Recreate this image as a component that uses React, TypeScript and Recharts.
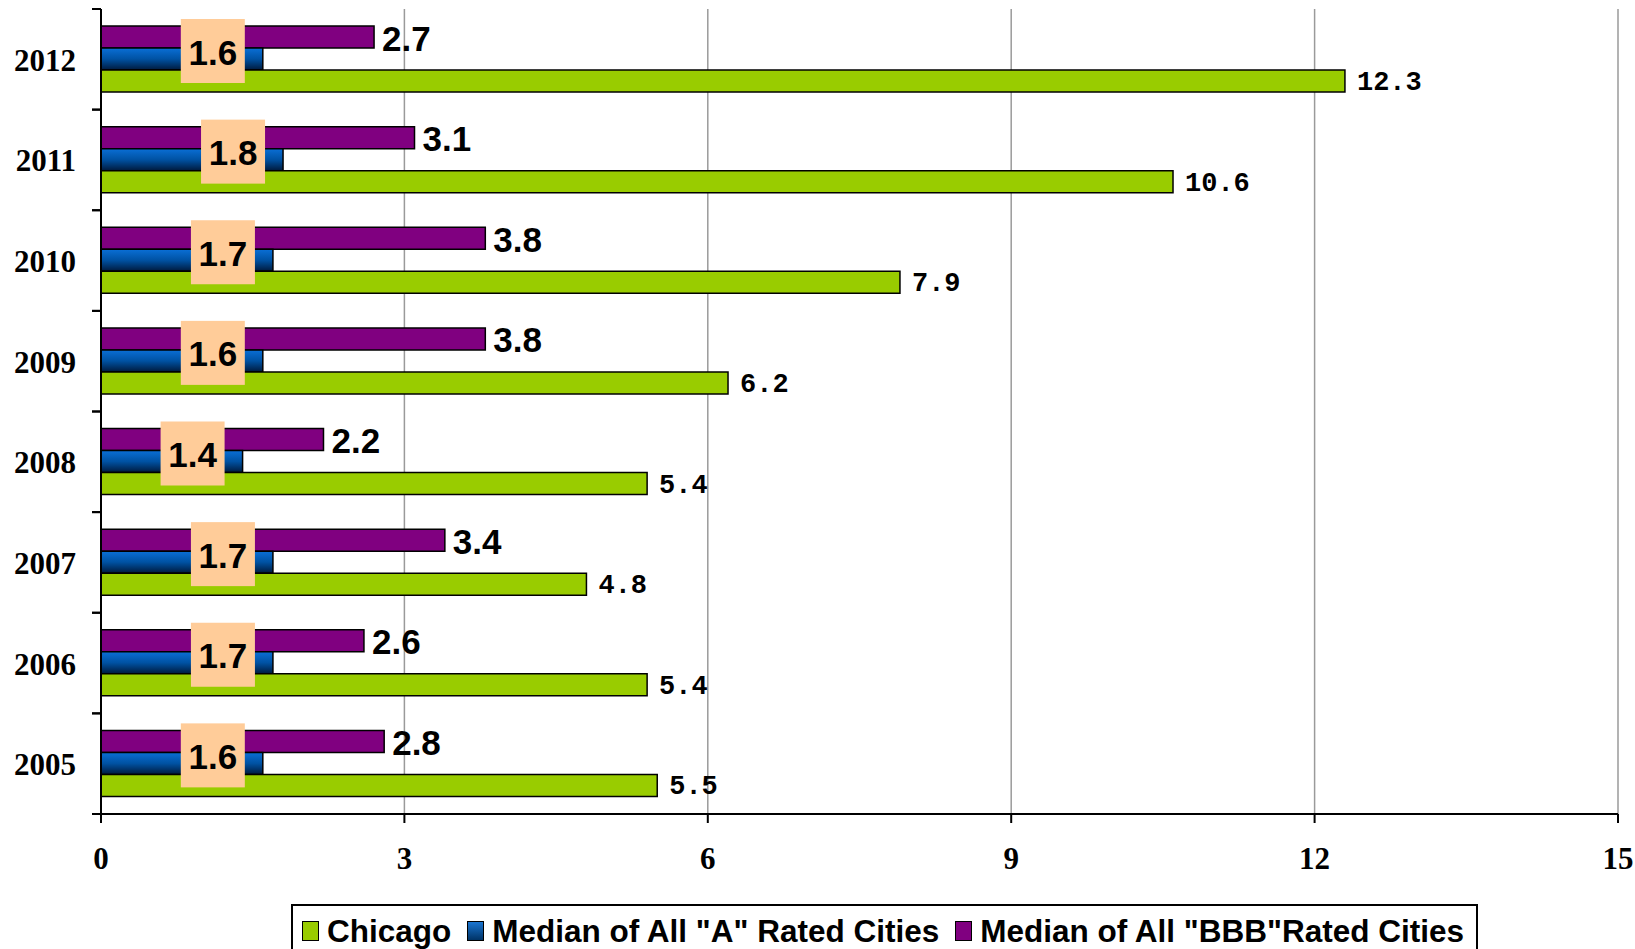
import { Bar, BarChart, CartesianGrid, LabelList, XAxis, YAxis } from "recharts";

const years = ["2005", "2006", "2007", "2008", "2009", "2010", "2011", "2012"];
const chicago = [5.5, 5.4, 4.8, 5.4, 6.2, 7.9, 10.6, 12.3];
const medianA = [1.6, 1.7, 1.7, 1.4, 1.6, 1.7, 1.8, 1.6];
const medianBBB = [2.8, 2.6, 3.4, 2.2, 3.8, 3.8, 3.1, 2.7];
const xTicks = [0, 3, 6, 9, 12, 15];

const data = years.map((year, i) => ({
  year,
  chicago: chicago[i],
  medianA: medianA[i],
  medianBBB: medianBBB[i],
}));

const W = 1635;
const H = 949;
const AXIS_X = 101;
const TOP = 9;
const BOTTOM_AREA = 135;
const BAND = (H - TOP - BOTTOM_AREA) / years.length;

const serif = '"Liberation Serif", "Times New Roman", serif';
const sans = '"Liberation Sans", Arial, sans-serif';
const mono = '"Liberation Mono", "Courier New", monospace';

function YearTick({ y, payload }: any) {
  return (
    <g>
      <text x={AXIS_X - 25} y={y + 1} textAnchor="end" dominantBaseline="central"
        fontFamily={serif} fontWeight="bold" fontSize={31} fill="#000">
        {payload.value}
      </text>
      <line x1={AXIS_X - 9} x2={AXIS_X} y1={y - BAND / 2} y2={y - BAND / 2} stroke="#000" strokeWidth={2} />
      <line x1={AXIS_X - 9} x2={AXIS_X} y1={y + BAND / 2} y2={y + BAND / 2} stroke="#000" strokeWidth={2} />
    </g>
  );
}

function ChicagoLabel({ x, y, width, height, value }: any) {
  return (
    <text x={x + width + 12} y={y + height / 2 + 2} dominantBaseline="central"
      fontFamily={mono} fontWeight="bold" fontSize={27} fill="#000">
      {value}
    </text>
  );
}

function BoxLabel({ x, y, width, height, value }: any) {
  const cx = x + width - 50;
  const cy = y + height / 2 - 8;
  return (
    <g>
      <rect x={cx - 32} y={cy - 32} width={64} height={64} fill="#FFCC99" />
      <text x={cx} y={cy + 1} textAnchor="middle" dominantBaseline="central"
        fontFamily={sans} fontWeight="bold" fontSize={35} fill="#000">
        {Number(value).toFixed(1)}
      </text>
    </g>
  );
}

function BBBLabel({ x, y, width, height, value }: any) {
  return (
    <text x={x + width + 8} y={y + height / 2 + 1} dominantBaseline="central"
      fontFamily={sans} fontWeight="bold" fontSize={35} fill="#000">
      {Number(value).toFixed(1)}
    </text>
  );
}

const legendItems = [
  { name: "Chicago", fill: "#99CC00" },
  { name: 'Median of All "A" Rated Cities', fill: "linear-gradient(#1a75d1, #003366)" },
  { name: 'Median of All "BBB"Rated Cities', fill: "#800080" },
];

export default function App() {
  return (
    <div style={{ position: "absolute", left: 0, top: 0, width: W, height: H, overflow: "hidden", background: "#fff" }}>
      <BarChart width={W} height={H} data={data} layout="vertical" barSize={22} barGap={0}
        margin={{ top: TOP, right: 17, left: 0, bottom: 0 }}>
        <defs>
          <linearGradient id="blueGrad" x1="0" y1="0" x2="0" y2="1">
            <stop offset="0%" stopColor="#0a6fd6" />
            <stop offset="50%" stopColor="#0052a3" />
            <stop offset="100%" stopColor="#001a3d" />
          </linearGradient>
        </defs>
        <CartesianGrid horizontal={false} stroke="#9a9a9a" strokeWidth={1.5} />
        <XAxis type="number" domain={[0, 15]} ticks={xTicks} height={BOTTOM_AREA}
          axisLine={{ stroke: "#000", strokeWidth: 2 }} tickLine={{ stroke: "#000", strokeWidth: 2 }}
          tickSize={9} tickMargin={24}
          tick={{ fontFamily: serif, fontWeight: "bold", fontSize: 31, fill: "#000" }} />
        <XAxis xAxisId="top" orientation="top" type="number" domain={[0, 15]} height={0}
          tick={false} tickLine={false} axisLine={{ stroke: "#000", strokeWidth: 2 }} />
        <YAxis type="category" dataKey="year" reversed width={AXIS_X} tickLine={false}
          axisLine={{ stroke: "#000", strokeWidth: 2 }} tick={<YearTick />} />
        <YAxis yAxisId="right" orientation="right" type="category" dataKey="year" reversed width={0}
          tick={false} tickLine={false} axisLine={{ stroke: "#000", strokeWidth: 2 }} />
        <Bar dataKey="medianBBB" name='Median of All "BBB"Rated Cities' fill="#800080"
          stroke="#000" strokeWidth={1.5} isAnimationActive={false}>
          <LabelList dataKey="medianBBB" content={<BBBLabel />} />
        </Bar>
        <Bar dataKey="medianA" name='Median of All "A" Rated Cities' fill="url(#blueGrad)"
          stroke="#000" strokeWidth={1.5} isAnimationActive={false}>
          <LabelList dataKey="medianA" content={<BoxLabel />} />
        </Bar>
        <Bar dataKey="chicago" name="Chicago" fill="#99CC00"
          stroke="#000" strokeWidth={1.5} isAnimationActive={false}>
          <LabelList dataKey="chicago" content={<ChicagoLabel />} />
        </Bar>
      </BarChart>
      <div style={{
        position: "absolute", left: 291, top: 904, width: 1187, height: 70,
        border: "2px solid #000", boxSizing: "border-box", display: "flex",
        alignItems: "flex-start", padding: "5px 0 0 9px", fontFamily: sans,
        fontWeight: "bold", fontSize: 31.5, lineHeight: "40px", whiteSpace: "nowrap",
      }}>
        {legendItems.map((item) => (
          <div key={item.name} style={{ display: "flex", alignItems: "center", marginRight: 16 }}>
            <span style={{
              display: "inline-block", width: 15, height: 18, background: item.fill,
              border: "1.5px solid #000", marginRight: 8,
            }} />
            <span>{item.name}</span>
          </div>
        ))}
      </div>
    </div>
  );
}
